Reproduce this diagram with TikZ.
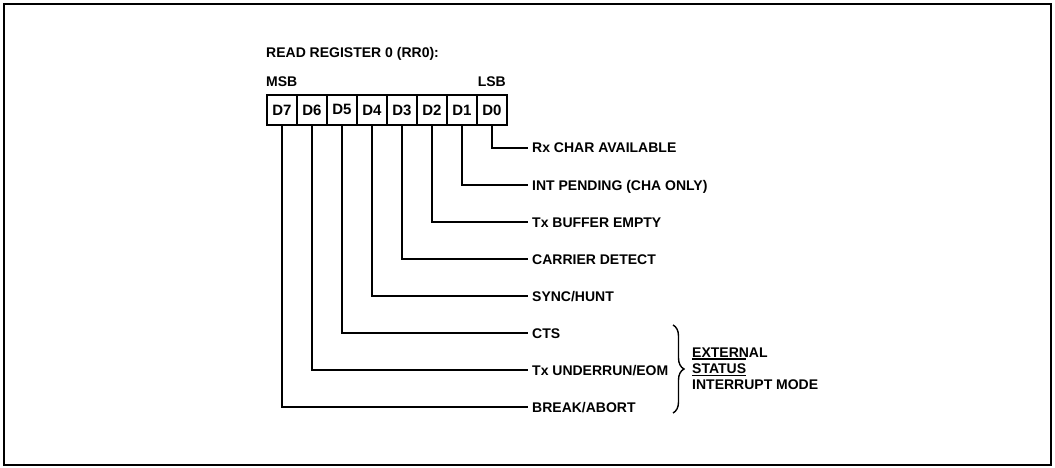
\documentclass[tikz,border=0pt]{standalone}
\usepackage{fontspec}
\setmainfont{Liberation Sans}
\usetikzlibrary{decorations.pathreplacing}
\begin{document}
\begin{tikzpicture}[x=1pt,y=-1pt,
  every node/.style={font=\fontsize{14}{17}\selectfont\bfseries},
  cell/.style={draw,line width=1.8pt,minimum width=30pt,minimum height=30pt,inner sep=0pt,anchor=north west,font=\fontsize{15}{17}\selectfont\bfseries},
  lbl/.style={anchor=west,inner sep=0pt,text height=10pt,text depth=0pt},
  txt/.style={anchor=base west,inner sep=0pt},
  wire/.style={line width=1.6pt}]
\useasboundingbox (0,0) rectangle (1055,468);
\draw[line width=2.6pt] (4,4) rectangle (1051,465);
\node[txt] (title) at (266,58) {READ REGISTER 0 (RR0):};
\node[txt] (msb) at (266,87) {MSB};
\node[anchor=base east,inner sep=0pt] (lsb) at (506,87) {LSB};
\foreach \b [count=\i from 0] in {7,6,5,4,3,2,1,0} {
  \node[cell] (c\b) at (266+30*\i,94) {D\b};
}
\foreach \b/\y/\t in {0/148/{Rx CHAR AVAILABLE},1/185/{INT PENDING (CHA ONLY)},2/222/{Tx BUFFER EMPTY},3/259/{CARRIER DETECT},4/296/{SYNC/HUNT},5/333/{CTS},6/370/{Tx UNDERRUN/EOM},7/407/{BREAK/ABORT}} {
  \node[lbl] (l\b) at (532,\y) {\t};
  \draw[wire] (c\b.south) |- ([xshift=-4pt]l\b.west);
}
\draw[line width=1.4pt,decorate,decoration={brace,amplitude=11pt}] (673,325) -- (673,413);
\node[txt] (ext) at (692,357) {EXTERNAL};
\node[txt] (stat) at (692,373) {STATUS};
\node[txt] (intr) at (692,389) {INTERRUPT MODE};
\draw[line width=1.2pt] (stat.west |- 0,359) -- (stat.east |- 0,359);
\draw[line width=1.2pt] (stat.west |- 0,375.5) -- (stat.east |- 0,375.5);
\end{tikzpicture}
\end{document}
